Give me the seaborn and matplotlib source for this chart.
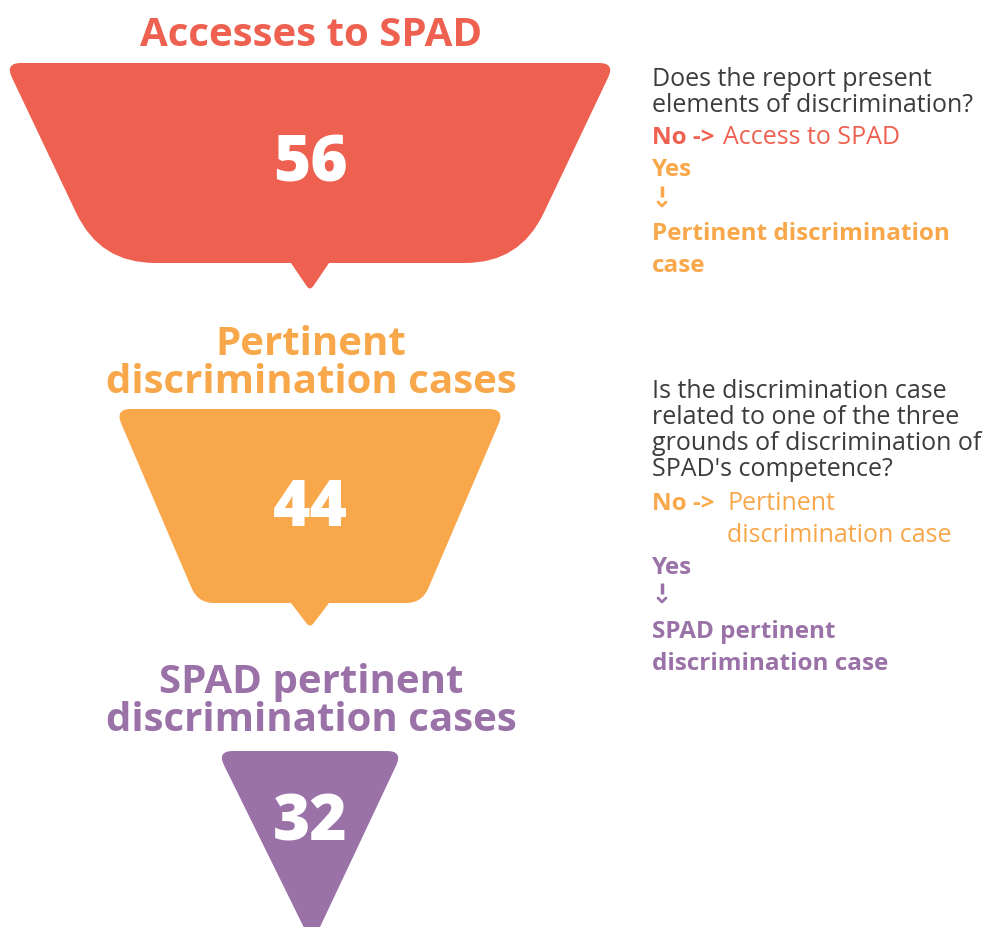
import numpy as np
import matplotlib
matplotlib.use("Agg")
import matplotlib.pyplot as plt
from matplotlib.path import Path
from matplotlib.patches import PathPatch
import seaborn as sns

# ---- data ----
stages = ["Accesses to SPAD", "Pertinent\ndiscrimination cases", "SPAD pertinent\ndiscrimination cases"]
counts = [56, 44, 32]
stage_colors = ["#EE6150", "#F8A84B", "#9B72A8"]
question1 = ["Does the report present", "elements of discrimination?"]
question2 = ["Is the discrimination case", "related to one of the three",
             "grounds of discrimination of", "SPAD's competence?"]

sns.set_theme(style="white")
FONT = ["Open Sans", "DejaVu Sans"]
plt.rcParams["font.family"] = FONT

W, H = 993, 928
fig = plt.figure(figsize=(W / 100, H / 100), dpi=100)
ax = fig.add_axes([0, 0, 1, 1])
ax.set_xlim(0, W)
ax.set_ylim(H, 0)
ax.axis("off")


def rounded_path(pts, radii):
    pts = np.asarray(pts, float)
    n = len(pts)
    verts, codes = [], []
    for i in range(n):
        v = pts[i]
        p0 = pts[i - 1]
        p2 = pts[(i + 1) % n]
        r = radii[i]
        d0 = (p0 - v) / np.linalg.norm(p0 - v)
        d2 = (p2 - v) / np.linalg.norm(p2 - v)
        a = v + d0 * r
        b = v + d2 * r
        verts.append(a); codes.append(Path.MOVETO if i == 0 else Path.LINETO)
        verts += [v, b]; codes += [Path.CURVE3, Path.CURVE3]
    verts.append(verts[0]); codes.append(Path.CLOSEPOLY)
    return Path(verts, codes)


cx = 310
shapes = [
    dict(ty=64, thw=305, by=264, bhw=210, rt=16, rb=55, tip=28),
    dict(ty=410, thw=195, by=604, bhw=112, rt=16, rb=16, tip=25),
    dict(ty=752, thw=93, by=945, bhw=0, rt=16, rb=0, tip=0),
]
title_lines_y = [[36], [345, 383], [683, 721]]
num_y = [164, 509, 824]

for i, (s, c) in enumerate(zip(shapes, stage_colors)):
    if s["bhw"] > 0:
        pts = [(cx - s["thw"], s["ty"]), (cx + s["thw"], s["ty"]),
               (cx + s["bhw"], s["by"]),
               (cx + 19, s["by"]), (cx, s["by"] + s["tip"]), (cx - 19, s["by"]),
               (cx - s["bhw"], s["by"])]
        radii = [s["rt"], s["rt"], s["rb"], 0.01, 6, 0.01, s["rb"]]
    else:
        pts = [(cx - s["thw"], s["ty"]), (cx + s["thw"], s["ty"]), (cx + 2, s["by"])]
        radii = [s["rt"], s["rt"], 0.01]
    ax.add_patch(PathPatch(rounded_path(pts, radii), facecolor=c, edgecolor="none"))
    ax.text(cx, num_y[i], str(counts[i]), color="white", fontsize=46, fontweight="heavy",
            ha="center", va="center")
    for line, y in zip(stages[i].split("\n"), title_lines_y[i]):
        ax.text(cx + 1, y, line, color=c, fontsize=29, fontweight="bold",
                ha="center", va="center")

gray = "#3C3C3C"
fs = 18
fsb = 17.5
tx = 652


def lines(x, y0, gap, texts, **kw):
    for k, t in enumerate(texts):
        ax.text(x, y0 + k * gap + 2, t, ha="left", va="center", **kw)


lines(tx, 78, 25, question1, color=gray, fontsize=fs)
lines(tx, 136, 0, ["No ->"], color=stage_colors[0], fontsize=fsb, fontweight="bold")
lines(723, 136, 0, ["Access to SPAD"], color=stage_colors[0], fontsize=fs)
lines(tx, 168, 0, ["Yes"], color=stage_colors[1], fontsize=fsb, fontweight="bold")
ax.plot([662, 662], [187, 198], color=stage_colors[1], lw=2.5, solid_capstyle="butt")
ax.plot([658, 662, 666], [203, 207, 203], color=stage_colors[1], lw=2)
lines(tx, 232, 32, ["Pertinent discrimination", "case"], color=stage_colors[1],
      fontsize=fsb, fontweight="bold")

lines(tx, 390, 26, question2, color=gray, fontsize=fs)
lines(tx, 502, 0, ["No ->"], color=stage_colors[1], fontsize=fsb, fontweight="bold")
lines(727, 502, 32, ["Pertinent", "discrimination case"], color=stage_colors[1], fontsize=fs)
lines(tx, 566, 0, ["Yes"], color=stage_colors[2], fontsize=fsb, fontweight="bold")
ax.plot([662, 662], [584, 595], color=stage_colors[2], lw=2.5, solid_capstyle="butt")
ax.plot([658, 662, 666], [599, 603, 599], color=stage_colors[2], lw=2)
lines(tx, 630, 32, ["SPAD pertinent", "discrimination case"], color=stage_colors[2],
      fontsize=fsb, fontweight="bold")

fig.savefig("out.png", dpi=100)
